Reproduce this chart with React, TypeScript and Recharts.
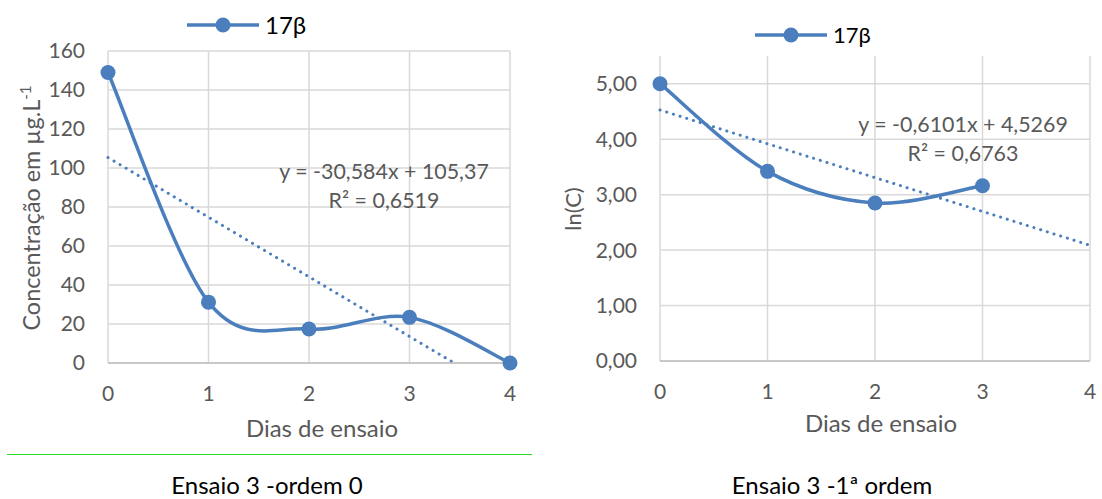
import React from 'react';
import { LineChart, Line, XAxis, YAxis, CartesianGrid } from 'recharts';

// ---- data ----
const days0 = [0, 1, 2, 3, 4];
const conc0 = [149, 31.2, 17.4, 23.4, 0];
const trendX0 = [0, 3.445];
const trendY0 = [105.37, 0];

const days1 = [0, 1, 2, 3];
const lnC1 = [5.0, 3.42, 2.85, 3.16];
const trendX1 = [0, 4];
const trendY1 = [4.5269, 2.0865];

const xTicks = [0, 1, 2, 3, 4];
const yTicks0 = [0, 20, 40, 60, 80, 100, 120, 140, 160];
const yTicks1 = [0, 1, 2, 3, 4, 5];

const seriesName = '17β';
const eq0 = ['y = -30,584x + 105,37', 'R² = 0,6519'];
const eq1 = ['y = -0,6101x + 4,5269', 'R² = 0,6763'];
const captions = ['Ensaio 3 -ordem 0', 'Ensaio 3 -1ª ordem'];
const xTitle = 'Dias de ensaio';

const data0 = days0.map((d, i) => ({ x: d, y: conc0[i] }));
const trend0 = trendX0.map((d, i) => ({ x: d, y: trendY0[i] }));
const data1 = days1.map((d, i) => ({ x: d, y: lnC1[i] }));
const trend1 = trendX1.map((d, i) => ({ x: d, y: trendY1[i] }));

// ---- styles ----
const BLUE = '#4A7EBD';
const GRID = '#D9D9D9';
const AXIS = '#BFBFBF';
const TXT = '#595959';
const FONT = 'Lato, "Open Sans", sans-serif';

// Excel-like smoothed line (Catmull-Rom through the points)
const excelSmooth = (context: any) => {
  let pts: number[][] = [];
  return {
    areaStart() {},
    areaEnd() {},
    lineStart() {
      pts = [];
    },
    point(x: number, y: number) {
      pts.push([+x, +y]);
    },
    lineEnd() {
      const n = pts.length;
      if (!n) return;
      context.moveTo(pts[0][0], pts[0][1]);
      for (let i = 0; i < n - 1; i++) {
        const p0 = pts[Math.max(i - 1, 0)];
        const p1 = pts[i];
        const p2 = pts[i + 1];
        const p3 = pts[Math.min(i + 2, n - 1)];
        context.bezierCurveTo(
          p1[0] + (p2[0] - p0[0]) / 6,
          p1[1] + (p2[1] - p0[1]) / 6,
          p2[0] - (p3[0] - p1[0]) / 6,
          p2[1] - (p3[1] - p1[1]) / 6,
          p2[0],
          p2[1]
        );
      }
    },
  };
};

const tickStyle = { fill: TXT, fontSize: 21, fontFamily: FONT };

const LegendItem = ({ left, top, size }: { left: number; top: number; size: number }) => (
  <div style={{ position: 'absolute', left, top, display: 'flex', alignItems: 'center', height: 24 }}>
    <svg width={72} height={20} style={{ display: 'block' }}>
      <line x1={0} y1={10} x2={72} y2={10} stroke={BLUE} strokeWidth={3.5} />
      <circle cx={36} cy={10} r={7.5} fill={BLUE} />
    </svg>
    <span style={{ marginLeft: 6, fontSize: size, color: '#000', fontFamily: FONT, lineHeight: 1 }}>{seriesName}</span>
  </div>
);

const Abs = ({ x, y, children, size = 20, color = TXT, rotate = false, lh = 1.1 }: any) => (
  <div
    style={{
      position: 'absolute',
      left: x,
      top: y,
      transform: `translate(-50%, -50%)${rotate ? ' rotate(-90deg)' : ''}`,
      whiteSpace: 'nowrap',
      fontSize: size,
      color,
      fontFamily: FONT,
      lineHeight: lh,
      textAlign: 'center',
    }}
  >
    {children}
  </div>
);

const fmt1 = (v: number) => v.toFixed(2).replace('.', ',');

export default function App() {
  return (
    <div style={{ position: 'absolute', left: 0, top: 0, width: 1102, height: 499, background: '#fff', overflow: 'hidden' }}>
      {/* Left chart */}
      <div style={{ position: 'absolute', left: 0, top: 0 }}>
        <LineChart width={540} height={440} margin={{ top: 51, right: 30, left: 0, bottom: 37 }}>
          <CartesianGrid stroke={GRID} strokeWidth={1.5} horizontalValues={yTicks0} verticalValues={xTicks} />
          <XAxis
            type="number"
            dataKey="x"
            domain={[0, 4]}
            ticks={xTicks}
            height={40}
            tickLine={false}
            axisLine={{ stroke: AXIS, strokeWidth: 1.5 }}
            tick={tickStyle}
            tickMargin={17}
            allowDuplicatedCategory={false}
          />
          <YAxis
            type="number"
            domain={[0, 160]}
            ticks={yTicks0}
            width={108}
            tickLine={false}
            axisLine={false}
            tick={tickStyle}
            tickMargin={17}
          />
          <Line
            data={trend0}
            dataKey="y"
            type="linear"
            stroke={BLUE}
            strokeWidth={3}
            strokeDasharray="0.1 6.9"
            strokeLinecap="round"
            dot={false}
            activeDot={false}
            isAnimationActive={false}
          />
          <Line
            data={data0}
            dataKey="y"
            type={excelSmooth as any}
            stroke={BLUE}
            strokeWidth={3.5}
            dot={{ r: 7.5, fill: BLUE, stroke: BLUE, strokeWidth: 0 }}
            activeDot={false}
            isAnimationActive={false}
          />
        </LineChart>
      </div>

      {/* Right chart */}
      <div style={{ position: 'absolute', left: 550, top: 0 }}>
        <LineChart width={552} height={440} margin={{ top: 56, right: 12, left: 0, bottom: 39 }}>
          <CartesianGrid stroke={GRID} strokeWidth={1.5} horizontalValues={yTicks1} verticalValues={xTicks} />
          <XAxis
            type="number"
            dataKey="x"
            domain={[0, 4]}
            ticks={xTicks}
            height={40}
            tickLine={false}
            axisLine={{ stroke: AXIS, strokeWidth: 1.5 }}
            tick={tickStyle}
            tickMargin={17}
            allowDuplicatedCategory={false}
          />
          <YAxis
            type="number"
            domain={[0, 5.5]}
            ticks={yTicks1}
            width={110}
            tickLine={false}
            axisLine={false}
            tick={tickStyle}
            tickMargin={17}
            tickFormatter={fmt1}
          />
          <Line
            data={trend1}
            dataKey="y"
            type="linear"
            stroke={BLUE}
            strokeWidth={3}
            strokeDasharray="0.1 6.9"
            strokeLinecap="round"
            dot={false}
            activeDot={false}
            isAnimationActive={false}
          />
          <Line
            data={data1}
            dataKey="y"
            type={excelSmooth as any}
            stroke={BLUE}
            strokeWidth={3.5}
            dot={{ r: 7.5, fill: BLUE, stroke: BLUE, strokeWidth: 0 }}
            activeDot={false}
            isAnimationActive={false}
          />
        </LineChart>
      </div>

      {/* Legends */}
      <LegendItem left={187} top={13} size={24} />
      <LegendItem left={755} top={23} size={22} />

      {/* Axis titles */}
      <Abs x={31} y={208} size={23.4} rotate>
        Concentração em µg.L<sup style={{ fontSize: 15 }}>-1</sup>
      </Abs>
      <Abs x={322} y={428} size={24}>{xTitle}</Abs>
      <Abs x={573} y={209} size={22} rotate>
        ln(C)
      </Abs>
      <Abs x={881} y={423} size={24}>{xTitle}</Abs>

      {/* Trendline equations */}
      <Abs x={384} y={172} size={21.4}>{eq0[0]}</Abs>
      <Abs x={384} y={201} size={21.4}>{eq0[1]}</Abs>
      <Abs x={963} y={125} size={21.4}>{eq1[0]}</Abs>
      <Abs x={963} y={154} size={21.4}>{eq1[1]}</Abs>

      {/* Separator and captions */}
      <div style={{ position: 'absolute', left: 7, top: 454, width: 525, height: 1, background: '#22DD22' }} />
      <Abs x={267} y={485} size={24} lh={1} color="#000">{captions[0]}</Abs>
      <Abs x={832} y={485} size={24} lh={1} color="#000">{captions[1]}</Abs>
    </div>
  );
}
